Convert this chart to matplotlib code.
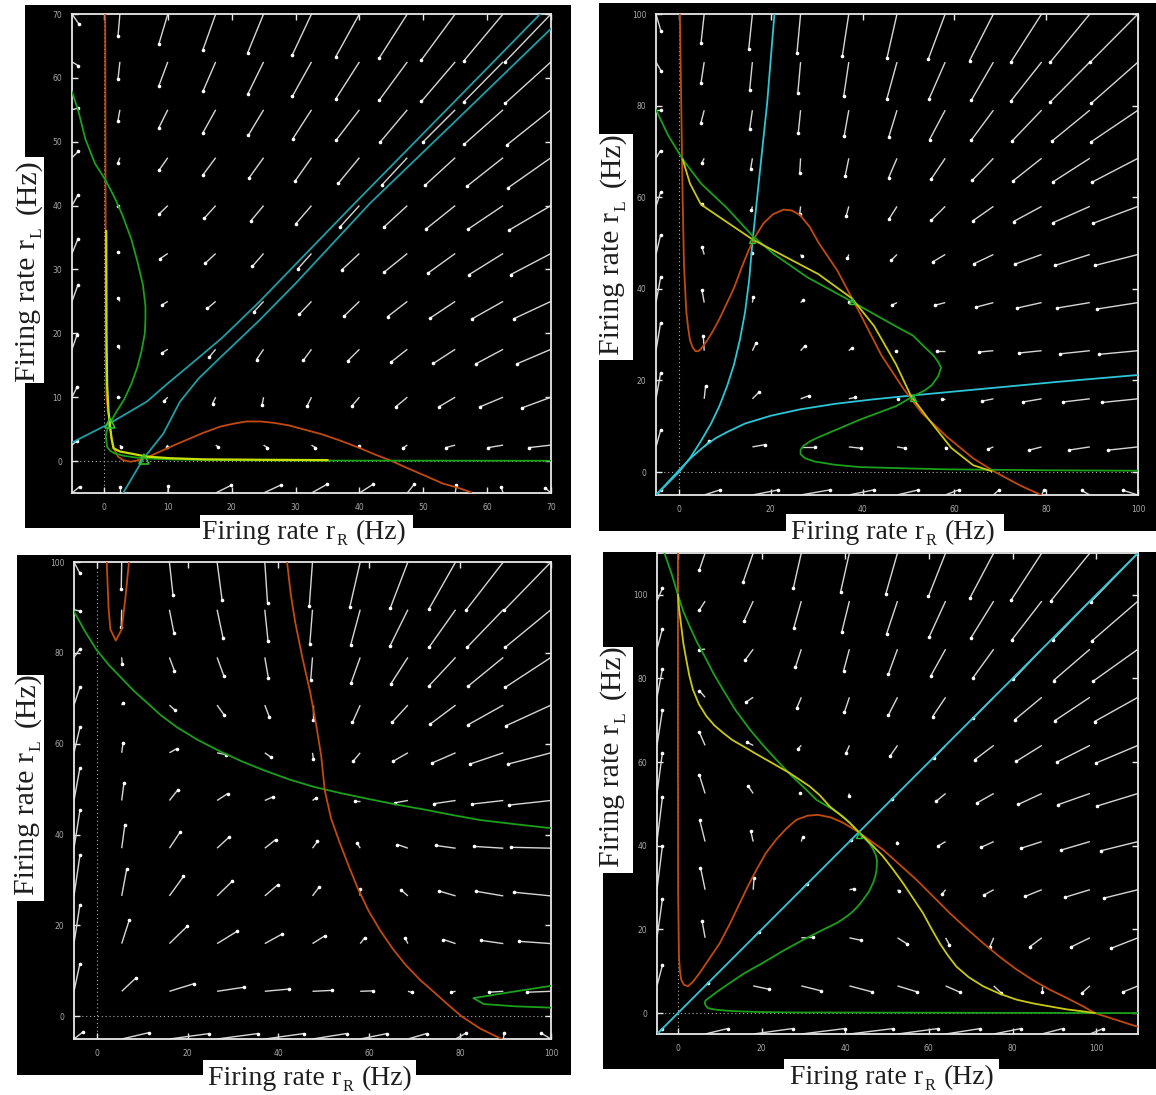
import numpy as np
import matplotlib
matplotlib.use('Agg')
import matplotlib.pyplot as plt
from matplotlib.collections import LineCollection
from matplotlib.patches import Rectangle

# Figure size in pixels (dpi 100).
W, H = 1156, 1095

# ---------------------------------------------------------------------------
# Panel 1 (top left): r_R, r_L in [-5, 70]
# Direction field on an 11 x 11 grid, rows listed from top (r_L = 70) to bottom.
p1DX = [
    [1.1, -0.3, -1.4, -2.0, -2.5, -3.0, -3.7, -4.4, -5.3, -6.2, -7.2],
    [1.0, -0.3, -1.4, -2.0, -2.5, -3.0, -3.7, -4.4, -5.3, -6.2, -7.2],
    [1.0, -0.3, -1.4, -2.0, -2.4, -2.9, -3.6, -4.2, -5.1, -6.1, -6.9],
    [1.0, -0.3, -1.4, -2.0, -2.3, -2.6, -3.3, -4.0, -4.7, -5.7, -6.7],
    [0.9, -0.3, -1.3, -1.8, -2.0, -2.5, -3.0, -3.7, -4.5, -5.5, -6.5],
    [0.9, -0.3, -1.2, -1.6, -1.75, -2.15, -2.8, -3.6, -4.3, -5.3, -6.3],
    [0.9, -0.3, -0.9, -1.3, -1.5, -1.9, -2.4, -3.1, -3.9, -4.8, -5.8],
    [0.8, -0.3, -0.9, -1.0, -1.1, -1.3, -1.85, -2.55, -3.4, -4.3, -5.4],
    [0.8, -0.3, -0.6, -0.5, -0.25, -0.7, -1.2, -1.8, -2.55, -3.6, -4.6],
    [0.8, 0.2, -0.2, 0.4, 0.6, 0.6, 0.0, -0.6, -1.5, -2.4, -3.5],
    [1.2, 0.0, 0.1, 2.4, 2.8, 2.5, 2.2, 1.1, 0.2, -0.3, -0.9],
]
p1DY = [
    [-1.6, -3.5, -4.7, -5.6, -6.1, -6.4, -6.7, -6.9, -7.2, -7.4, -7.5],
    [-0.6, -2.7, -3.75, -4.6, -5.1, -5.4, -5.8, -6.0, -6.2, -6.3, -6.5],
    [0.3, -1.7, -2.8, -3.6, -4.0, -4.5, -4.7, -5.0, -5.1, -5.4, -5.5],
    [1.0, -0.8, -2.0, -2.7, -3.2, -3.7, -4.0, -4.3, -4.3, -4.5, -4.7],
    [1.6, -0.05, -1.25, -2.0, -2.4, -2.9, -3.3, -3.4, -3.6, -3.7, -3.8],
    [2.2, 0.3, -0.8, -1.5, -2.0, -2.4, -2.6, -2.9, -3.1, -3.3, -3.3],
    [2.5, 0.55, -0.55, -1.1, -1.6, -2.0, -2.3, -2.4, -2.6, -2.7, -2.7],
    [2.3, 0.45, -0.55, -1.2, -1.6, -1.75, -1.85, -2.0, -2.2, -2.3, -2.3],
    [1.6, 0.0, -0.6, -1.0, -1.25, -1.4, -1.4, -1.5, -1.5, -1.5, -1.7],
    [0.7, -0.3, -0.3, -0.3, -0.4, -0.4, -0.2, -0.4, -0.4, -0.4, -0.4],
    [1.0, 1.0, 1.1, 1.2, 1.3, 1.4, 1.4, 1.4, 1.2, 1.0, 0.8],
]
# nullclines, manifolds and trajectories
p1OrangeX = [0.2, 0.3, 0.4, 0.6, 0.8, 1.0, 1.2, 1.4, 1.7, 2.2, 3.0, 4.1, 5.0, 6.2, 7.5, 8.8,
             10.8, 12.9, 15.5, 18.2, 20.5, 22.3, 24.5, 26.5, 28.9, 31.5, 34.1, 37.0, 39.9,
             42.5, 45.1, 47.5, 50.3, 53.0, 55.5, 57.5]
p1OrangeY = [70, 15, 10, 8.0, 6.9, 5.0, 3.5, 2.5, 1.7, 0.7, 0.15, -0.1, 0.05, 0.4, 0.9, 1.5,
             2.4, 3.3, 4.4, 5.4, 5.9, 6.2, 6.2, 6.0, 5.6, 4.9, 4.2, 3.2, 2.1,
             1.0, 0.0, -1.1, -2.3, -3.5, -4.2, -4.9]
p1GreenX = [-5.0, -4.0, -2.9, -1.4, 0.3, 1.7, 2.9, 4.3, 5.2, 6.1, 6.5, 6.5, 6.4, 5.9, 5.2, 4.3,
            3.2, 2.0, 1.2, 0.8, 0.4, 0.3, 0.5, 1.0, 1.7, 3.0, 4.6, 7.0, 10.3, 18.2, 30.0, 70.0]
p1GreenY = [57.8, 54.8, 50.4, 46.6, 43.9, 41.2, 38.5, 34.7, 31.4, 27.6, 24.3, 22.2, 20.0, 17.3,
            14.6, 12.1, 9.7, 7.8, 6.4, 5.5, 4.6, 3.8, 2.2, 1.6, 1.2, 0.85, 0.6, 0.4, 0.26,
            0.15, 0.08, 0.05]
p1YellowX = [0.35, 0.4, 0.5, 0.7, 0.9, 1.2, 1.5, 2.5, 4.1, 6.7, 10.3, 15.5, 25.0, 35.0]
p1YellowY = [36.0, 20.0, 12.0, 8.0, 5.9, 3.5, 2.0, 1.5, 1.2, 0.7, 0.45, 0.27, 0.2, 0.15]
p1CyanAX = [-5.0, 0.9, 6.7, 9.8, 14.0, 18.5, 24.3, 30.0, 39.3, 50.0, 60.0, 68.3]
p1CyanAY = [2.9, 5.9, 9.3, 12.0, 15.5, 19.3, 24.9, 30.8, 40.4, 51.3, 61.5, 70.0]
p1CyanBX = [3.0, 6.2, 9.3, 11.9, 14.8, 18.0, 24.3, 30.0, 41.65, 55.0, 70.1]
p1CyanBY = [-5.0, 0.4, 4.3, 9.3, 12.9, 16.0, 22.0, 27.8, 40.35, 53.2, 67.8]
p1FixedX = [0.9, 6.2]
p1FixedY = [5.9, 0.4]

# ---------------------------------------------------------------------------
# Panel 2 (top right): [-5, 100]
p2DX = [
    [1.1, -0.7, -0.8, -0.8, -1.4, -2.2, -3.7, -5.2, -6.7, -8.6, -10.4],
    [1.1, -0.7, -0.6, -0.6, -1.1, -2.2, -3.5, -4.8, -6.7, -8.6, -10.2],
    [1.1, -0.7, -0.6, -0.5, -1.0, -1.8, -3.4, -4.8, -6.5, -8.3, -10.2],
    [1.0, -0.5, -0.4, -0.2, -0.8, -1.8, -3.1, -4.6, -6.3, -8.1, -10.0],
    [1.0, -0.5, -0.2, -0.2, -0.6, -1.7, -3.0, -4.4, -6.1, -8.1, -9.8],
    [1.0, -0.5, 0.0, 0.2, -0.3, -1.2, -2.7, -4.2, -5.8, -7.6, -9.4],
    [1.0, -0.5, 0.2, 0.6, 0.1, -1.0, -2.3, -3.8, -5.4, -7.2, -8.9],
    [1.0, -0.2, 0.8, 0.9, 0.6, -0.2, -1.8, -3.2, -4.9, -6.6, -8.5],
    [1.0, 0.3, 1.4, 1.9, 1.4, 0.2, -0.7, -2.4, -4.1, -5.9, -7.8],
    [1.0, 1.1, 2.8, 3.1, 2.7, 1.8, 0.2, -1.2, -2.7, -4.6, -6.5],
    [1.1, 3.4, 5.6, 6.3, 5.4, 4.6, 2.9, 1.2, 0.5, -1.8, -3.2],
]
p2DY = [
    [-3.8, -6.4, -7.7, -8.6, -9.1, -9.7, -9.9, -10.2, -10.5, -10.5, -10.5],
    [-1.9, -4.6, -6.1, -6.7, -7.4, -8.0, -8.0, -8.3, -8.5, -8.7, -9.0],
    [0.0, -2.7, -4.1, -4.9, -5.6, -5.9, -6.4, -6.5, -6.8, -6.8, -6.9],
    [1.7, -1.0, -2.4, -3.3, -3.9, -4.2, -4.6, -4.8, -5.0, -5.2, -5.2],
    [3.1, 0.5, -0.8, -1.7, -2.2, -2.7, -3.0, -3.1, -3.3, -3.6, -3.7],
    [4.3, 1.7, 0.3, -0.3, -0.8, -1.2, -1.6, -2.0, -2.1, -2.4, -2.4],
    [5.5, 2.8, 1.3, 0.5, 0.15, -0.5, -0.6, -1.0, -1.2, -1.2, -1.4],
    [6.1, 3.3, 1.7, 1.0, 0.5, 0.0, 0.0, -0.3, -0.5, -0.7, -0.8],
    [5.6, 2.8, 1.4, 0.7, 0.3, 0.0, 0.0, -0.5, -0.7, -0.7, -0.8],
    [3.6, 1.2, 0.5, 0.0, -0.3, -0.3, -0.3, -0.5, -0.7, -0.7, -0.7],
    [1.2, 1.1, 1.1, 1.1, 1.1, 1.1, 1.1, 1.1, 1.1, 1.0, 1.0],
]
p2OrangeX = [0.2, 0.5, 0.8, 1.1, 1.6, 2.0, 2.4, 3.0, 3.6, 4.2, 4.8, 6.0, 7.4, 8.8, 10.4, 12.0,
             13.6, 15.2, 16.8, 18.4, 20.5, 22.8, 24.6, 26.4, 28.5, 30.4, 34.5, 39.3, 44.1,
             48.9, 52.9, 58.5, 64.1, 68.9, 74.5, 78.9]
p2OrangeY = [100, 80, 60, 45, 35, 31.5, 28.8, 27.2, 26.4, 26.4, 26.9, 28.5, 30.8, 33.4, 36.8,
             40.2, 44.5, 48.5, 51.7, 54.3, 56.3, 57.3, 57.1, 56.1, 53.5, 50.1, 44.0, 34.9,
             25.5, 18.2, 12.9, 7.6, 3.0, 0.0, -3.0, -5.0]
p2GreenX = [-5.0, -2.4, 0.8, 4.8, 10.4, 16.0, 20.8, 28.0, 37.7, 47.1, 51.0, 53.5, 55.5, 56.5,
            57.1, 56.5, 55.1, 53.5, 51.3, 47.3, 39.3, 30.4, 28.5, 27.2, 26.5, 26.5, 27.5,
            29.6, 34.0, 39.3, 50.0, 58.5, 80.0, 100.0]
p2GreenY = [79.1, 73.6, 68.3, 63.0, 57.7, 51.6, 47.5, 42.5, 37.2, 31.9, 29.8, 27.3, 25.4, 24.0,
            22.8, 21.0, 19.0, 17.8, 16.7, 14.4, 11.4, 7.6, 6.7, 5.8, 4.9, 3.9, 3.0,
            2.3, 1.6, 1.1, 0.8, 0.6, 0.4, 0.3]
p2YellowX = [0.8, 2.4, 4.8, 10.4, 16.0, 23.2, 30.4, 37.7, 42.5, 47.3, 50.5, 54.5, 59.3, 64.1, 68.1]
p2YellowY = [68.3, 63.0, 58.4, 54.6, 50.8, 47.0, 43.2, 37.9, 31.9, 23.5, 16.7, 11.4, 5.3, 1.5, 0.2]
p2CyanAX = [-5.0, 0.0, 2.5, 4.8, 7.0, 8.8, 10.5, 12.0, 13.3, 14.4, 15.3, 16.0, 17.6, 19.2, 20.8]
p2CyanAY = [-5.0, 0.0, 3.2, 6.8, 10.6, 14.4, 18.8, 23.5, 29.0, 34.9, 42.0, 50.1, 65.3, 80.4, 100.0]
p2CyanBX = [-5.0, 0.0, 2.8, 5.6, 8.0, 10.4, 14.4, 20.0, 26.4, 34.0, 42.5, 50.5, 66.5, 82.5, 100.0]
p2CyanBY = [-5.0, 0.4, 3.3, 5.7, 7.4, 8.7, 10.6, 12.3, 13.7, 14.9, 15.9, 16.7, 18.2, 19.7, 21.2]
p2FixedX = [16.0, 37.6, 51.0]
p2FixedY = [50.6, 37.4, 16.2]

# ---------------------------------------------------------------------------
# Panel 3 (bottom left): [-5, 100]
p3DX = [
    [1.3, -0.1, 0.8, 1.1, 0.6, -0.7, -2.3, -3.9, -5.9, -8.2, -10.3],
    [1.3, -0.1, 1.0, 1.3, 0.7, -0.6, -2.1, -3.9, -5.8, -8.0, -10.1],
    [1.3, 0.1, 1.1, 1.5, 0.8, -0.4, -2.0, -3.8, -5.8, -7.7, -10.1],
    [1.3, 0.3, 1.2, 1.5, 1.0, 0.0, -1.7, -3.5, -5.6, -7.7, -9.8],
    [1.3, 0.3, 1.6, 1.9, 1.4, 0.2, -1.5, -3.3, -5.3, -7.4, -9.5],
    [1.3, 0.5, 1.9, 2.3, 1.8, 0.7, -1.1, -2.8, -4.8, -7.0, -9.2],
    [1.3, 0.7, 2.4, 2.7, 2.4, 1.1, -0.7, -2.3, -4.4, -6.5, -8.8],
    [1.3, 1.1, 3.1, 3.3, 2.9, 1.5, -0.1, -1.6, -3.7, -5.9, -8.1],
    [1.3, 1.7, 3.9, 4.4, 3.8, 2.7, 1.0, -0.6, -2.7, -4.9, -7.0],
    [1.3, 3.2, 5.5, 6.0, 5.4, 4.3, 2.8, 0.8, -1.0, -3.1, -5.2],
    [1.9, 6.0, 8.8, 9.0, 8.6, 7.5, 5.9, 4.1, 2.3, 0.2, -2.2],
]
p3DY = [
    [-2.5, -5.9, -7.3, -8.4, -9.0, -9.6, -10.0, -10.2, -10.4, -10.6, -10.6],
    [-0.3, -3.7, -5.1, -6.2, -6.8, -7.6, -7.8, -7.9, -8.2, -8.3, -8.3],
    [1.9, -1.4, -2.9, -4.1, -4.6, -5.0, -5.6, -5.9, -6.2, -6.3, -6.6],
    [3.9, 0.5, -1.1, -2.1, -2.6, -3.2, -3.8, -3.8, -4.2, -4.3, -4.5],
    [5.6, 2.2, 0.9, -0.4, -1.0, -1.4, -1.8, -1.9, -2.3, -2.5, -2.5],
    [7.2, 3.9, 2.4, 1.5, 0.8, 0.5, 0.0, -0.5, -0.7, -0.8, -1.0],
    [8.3, 5.2, 3.6, 2.5, 1.9, 1.5, 1.2, 0.8, 0.6, 0.4, 0.2],
    [8.9, 5.9, 4.3, 3.2, 2.5, 2.0, 1.5, 1.4, 1.1, 1.0, 0.8],
    [8.6, 5.3, 3.8, 2.7, 2.1, 1.7, 1.3, 1.2, 0.9, 0.7, 0.5],
    [6.1, 3.0, 1.7, 0.9, 0.5, 0.2, 0.1, -0.2, -0.2, -0.2, -0.2],
    [1.5, 1.4, 1.2, 1.2, 1.2, 1.2, 1.2, 1.2, 1.3, 1.3, 1.3],
]
p3GreenX = [-5.0, -2.5, 0.0, 2.7, 5.5, 8.2, 11.1, 14.2, 17.7, 22.3, 27.4, 32.2, 37.2, 42.5,
            47.8, 53.8, 60.0, 66.0, 72.2, 78.3, 84.4, 92.0, 100.0]
p3GreenY = [89.1, 84.6, 80.6, 77.3, 74.4, 71.6, 69.0, 66.2, 63.6, 60.8, 58.2, 56.0, 54.0, 52.1,
            50.5, 49.1, 47.8, 46.6, 45.5, 44.3, 43.2, 42.3, 41.4]
p3WedgeX = [100.0, 91.0, 82.9, 85.2, 92.0, 100.0]
p3WedgeY = [6.7, 5.3, 4.0, 2.7, 2.2, 1.9]
p3OrangeLeftX = [2.2, 2.6, 3.0, 4.2, 5.5, 6.3, 7.1]
p3OrangeLeftY = [100, 90, 85.2, 82.7, 85.2, 92, 100]
p3OrangeRightX = [41.9, 42.7, 43.7, 45.3, 47.0, 48.3, 49.4, 50.2, 51.6, 53.5, 55.5, 57.5, 59.8,
                  62.4, 65.2, 68.1, 71.3, 74.6, 77.5, 80.3, 84.4, 89.1]
p3OrangeRightY = [100, 93.0, 86.7, 78.8, 71.3, 64.2, 57.4, 49.7, 43.5, 38.2, 33.0, 28.1, 23.3,
                  18.9, 14.8, 11.2, 7.9, 5.0, 2.4, 0.0, -2.7, -5.0]

# ---------------------------------------------------------------------------
# Panel 4 (bottom right): [-5, 110]
p4DX = [
    [1.3, -1.4, -2.4, -1.9, -2.1, -2.8, -4.1, -5.7, -7.3, -9.3, -11.2],
    [1.3, -1.4, -2.2, -1.8, -1.8, -2.6, -3.9, -5.5, -7.1, -8.9, -11.0],
    [1.3, -1.4, -2.0, -1.4, -1.4, -2.2, -3.6, -5.0, -6.8, -8.7, -10.8],
    [1.3, -1.4, -1.8, -1.1, -1.2, -2.2, -3.1, -4.9, -6.5, -8.4, -10.4],
    [1.3, -1.4, -1.6, -0.9, -0.8, -1.8, -2.8, -4.5, -6.1, -7.9, -10.0],
    [1.3, -1.4, -1.2, -0.3, -0.2, -1.2, -2.3, -3.9, -5.6, -7.7, -9.8],
    [1.3, -1.3, -0.6, 0.3, 0.3, -0.2, -1.7, -3.1, -5.0, -6.8, -8.9],
    [1.3, -1.1, 0.2, 1.3, 1.1, 0.4, -0.8, -2.2, -4.0, -5.9, -8.1],
    [1.3, -0.7, 1.4, 2.9, 2.8, 2.2, 0.9, -0.9, -2.8, -4.5, -6.4],
    [1.3, 0.7, 3.8, 4.8, 5.3, 4.6, 3.4, 1.7, 0.0, -1.8, -3.7],
    [1.2, 5.4, 9.4, 10.4, 10.5, 9.7, 8.3, 6.5, 5.0, 3.2, 1.0],
]
p4DY = [
    [1.0, -4.1, -6.9, -8.4, -9.3, -9.8, -10.4, -10.8, -11.2, -11.4, -11.6],
    [3.1, -2.2, -4.8, -6.4, -7.3, -7.8, -8.5, -8.9, -9.2, -9.3, -9.5],
    [4.9, -0.1, -2.7, -4.3, -5.2, -6.0, -6.5, -6.9, -7.2, -7.5, -7.7],
    [6.8, 1.6, -1.2, -2.6, -3.6, -4.3, -4.6, -5.0, -5.4, -5.6, -5.8],
    [8.4, 3.2, 0.8, -0.9, -1.8, -2.6, -3.0, -3.4, -3.8, -4.0, -4.2],
    [9.8, 4.5, 1.8, 0.2, -0.6, -1.4, -1.9, -2.2, -2.6, -2.7, -3.0],
    [10.6, 5.2, 2.6, 1.0, 0.3, -0.4, -1.0, -1.4, -1.6, -2.0, -2.2],
    [10.5, 5.3, 2.8, 1.4, 0.2, -0.4, -1.0, -1.2, -1.6, -1.8, -2.0],
    [9.3, 3.9, 1.4, 0.1, -0.6, -1.4, -1.7, -2.1, -2.1, -2.2, -2.5],
    [5.0, 0.6, -0.8, -1.2, -1.4, -1.4, -1.5, -1.6, -1.4, -1.6, -1.5],
    [1.2, 1.3, 1.3, 1.3, 1.3, 1.3, 1.3, 1.3, 1.3, 1.3, 1.3],
]
p4GreenX = [-3.2, -1.5, 0.0, 1.3, 2.8, 4.5, 6.4, 8.5, 10.8, 13.8, 17.2, 20.3, 23.5, 27.0, 30.7,
            33.1, 36.5, 39.5, 43.3, 44.6, 45.9, 46.7, 47.3, 47.6, 47.5, 47.2, 46.7, 45.7, 44.3,
            43.0, 41.5, 39.8, 37.9, 33.8, 29.9, 25.0, 20.3, 16.0, 12.4, 9.5, 7.5, 6.6, 6.4,
            6.7, 7.2, 8.0, 9.2, 12.0, 15.0, 20.0, 27.5, 110.0]
p4GreenY = [109.9, 105.0, 100.0, 96.0, 92.5, 88.8, 85.3, 81.2, 77.3, 72.4, 67.8, 64.1, 60.6,
            56.9, 53.4, 51.0, 49.0, 47.0, 43.2, 41.8, 40.4, 39.1, 37.8, 36.5, 34.3, 32.7, 31.2,
            29.1, 27.1, 25.5, 24.0, 22.7, 21.5, 19.5, 17.5, 14.8, 12.0, 9.6, 7.2, 5.2, 3.7,
            3.0, 2.4, 1.7, 1.2, 1.0, 0.8, 0.55, 0.4, 0.25, 0.15, 0.0]
p4YellowX = [0.0, 0.3, 0.8, 1.3, 2.0, 2.7, 3.6, 5.0, 6.8, 8.7, 10.8, 13.0, 15.6, 18.3, 21.1,
             23.9, 26.7, 29.1, 31.5, 33.9, 36.3, 38.7, 41.1, 43.3, 46.2, 49.0, 51.4, 53.8,
             56.2, 58.6, 60.6, 62.6, 64.6, 66.6, 69.5, 73.0, 77.0, 81.0, 85.0, 88.9, 92.9,
             96.9, 99.7]
p4YellowY = [100.0, 96.5, 92.5, 88.4, 84.5, 80.8, 77.3, 73.9, 71.0, 68.8, 67.0, 65.3, 63.8,
             62.2, 60.6, 59.0, 57.4, 55.8, 54.2, 52.1, 49.4, 47.5, 45.5, 43.2, 40.4, 37.5, 34.4,
             31.1, 27.5, 23.9, 20.2, 16.7, 13.7, 11.1, 8.6, 6.4, 4.6, 3.2, 2.3, 1.6, 0.9,
             0.4, 0.0]
p4OrangeX = [0.0, 0.0, 0.05, 0.25, 0.5, 0.8, 1.4, 2.4, 3.6, 5.2, 7.5, 10.0, 12.5, 14.8, 16.8,
             18.8, 21.0, 23.5, 26.0, 28.3, 31.0, 33.5, 36.5, 39.5, 43.3, 46.0, 49.0, 53.0,
             57.0, 61.0, 65.0, 69.0, 73.0, 77.0, 81.0, 85.0, 88.9, 93.0, 96.9, 99.7, 105.0,
             110.0]
p4OrangeY = [110.0, 60.0, 29.5, 13.5, 10.0, 8.0, 6.8, 6.4, 7.5, 9.6, 13.0, 16.7, 21.5, 26.3,
             30.5, 34.3, 38.2, 41.5, 44.2, 46.2, 47.2, 47.4, 46.8, 45.5, 43.2, 41.2, 39.1, 35.5,
             31.9, 27.9, 23.9, 20.2, 16.7, 13.4, 10.4, 7.8, 5.6, 3.6, 1.6, 0.0, -1.7,
             -3.3]
p4CyanX = [-5.0, 110.0]
p4CyanY = [-5.0, 110.0]
p4FixedX = [43.3]
p4FixedY = [42.6]

# axis label text
labelHead = 'Firing rate r'
labelTail = '(Hz)'
subX = 'R'
subY = 'L'

# ---------------------------------------------------------------------------
# colours
ORANGE = '#c24a0e'
GREEN = '#1aa01a'
YELLOW = '#c9c812'
YELLOW_BRIGHT = '#c8e000'
TEAL = '#1f9ea6'
CYAN = '#2cc6d6'
ARROW = '#d6d6d6'
TICK = '#a8a8a8'
SERIF = 'Liberation Serif'

fig = plt.figure(figsize=(W / 100, H / 100), dpi=100)
fig.patch.set_facecolor('white')
renderer = fig.canvas.get_renderer()


def figRect(left, top, right, bottom, colour, z):
    """ Add a rectangle given in pixel coordinates (origin top left) """
    r = Rectangle((left / W, 1 - bottom / H), (right - left) / W, (bottom - top) / H,
                  transform=fig.transFigure, facecolor=colour, edgecolor='none', zorder=z)
    fig.add_artist(r)


def textWidth(s, size):
    t = fig.text(0, 0, s, fontsize=size, family=SERIF)
    w = t.get_window_extent(renderer).width
    t.remove()
    return w


def putText(x, y, s, size, rot):
    fig.text(x / W, 1 - y / H, s, fontsize=size, family=SERIF, color='#1e1e1e',
             ha='left', va='baseline', rotation=rot, rotation_mode='anchor', zorder=6)


def subLabel(cx, cy, sub, size, vertical, gap):
    """ 'Firing rate r_sub (Hz)' centred on cx (or cy), with a real subscript """
    em = size * 100 / 72
    small = size * 0.58
    w1 = textWidth(labelHead, size)
    ws = textWidth(sub, small)
    w2 = textWidth(labelTail, size)
    gapPx = gap * em
    total = w1 + 1 + ws + gapPx + w2
    drop = 0.2 * em
    if not vertical:
        x0 = cx - total / 2
        putText(x0, cy, labelHead, size, 0)
        putText(x0 + w1 + 1, cy + drop, sub, small, 0)
        putText(x0 + w1 + 1 + ws + gapPx, cy, labelTail, size, 0)
    else:
        y0 = cy + total / 2
        putText(cx, y0, labelHead, size, 90)
        putText(cx + drop, y0 - w1 - 1, sub, small, 90)
        putText(cx, y0 - w1 - 1 - ws - gapPx, labelTail, size, 90)


def makePanel(frame, lim, ticks):
    left, top, right, bottom = frame
    ax = fig.add_axes([left / W, 1 - bottom / H, (right - left) / W, (bottom - top) / H])
    ax.set_facecolor('black')
    ax.set_xlim(lim)
    ax.set_ylim(lim)
    ax.set_xticks(ticks)
    ax.set_yticks(ticks)
    ax.tick_params(which='both', direction='in', length=4, width=1, color='#e8e8e8',
                   top=True, right=True, labelsize=5.5, labelcolor=TICK, pad=7)
    for s in ax.spines.values():
        s.set_color('#e8e8e8')
        s.set_linewidth(1.3)
    ax.axhline(0, color='#b0b0b0', lw=0.8, ls=(0, (1, 2.5)), zorder=1)
    ax.axvline(0, color='#b0b0b0', lw=0.8, ls=(0, (1, 2.5)), zorder=1)
    return ax


def drawField(ax, lim, dx, dy):
    """ Arrows on the 11 x 11 grid: line from grid point, dot at the head """
    xs = np.linspace(lim[0], lim[1], 11)
    ys = np.linspace(lim[1], lim[0], 11)
    X, Y = np.meshgrid(xs, ys)
    U = np.asarray(dx)
    V = np.asarray(dy)
    tails = np.stack([X, Y], axis=-1).reshape(-1, 2)
    heads = np.stack([X + U, Y + V], axis=-1).reshape(-1, 2)
    segs = np.stack([tails, heads], axis=1)
    ax.add_collection(LineCollection(segs, colors=ARROW, linewidths=1.0, zorder=2))
    ax.plot(heads[:, 0], heads[:, 1], 'o', ms=2.6, mfc='white', mec='white', mew=0, zorder=2)


def curve(ax, x, y, colour, lw=1.3, z=3):
    ax.plot(x, y, color=colour, lw=lw, zorder=z, solid_joinstyle='round')


def labelBoxes(xbox, ybox, xpos, ypos):
    figRect(*xbox, 'white', 5)
    figRect(*ybox, 'white', 5)
    subLabel(xpos[0], xpos[1], subX, 20, False, 0.3)
    subLabel(ypos[0], ypos[1], subY, 21.5, True, 0.45)


# black window behind each panel
figRect(25, 5, 571, 528, 'black', -1)
figRect(599, 3, 1156, 531, 'black', -1)
figRect(17, 555, 571, 1075, 'black', -1)
figRect(603, 552, 1156, 1069, 'black', -1)

# Panel 1
lim1 = (-5, 70)
ax1 = makePanel((72, 14, 551, 493), lim1, np.arange(0, 71, 10))
drawField(ax1, lim1, p1DX, p1DY)
curve(ax1, p1CyanAX, p1CyanAY, TEAL)
curve(ax1, p1CyanBX, p1CyanBY, TEAL)
curve(ax1, p1OrangeX, p1OrangeY, ORANGE)
curve(ax1, p1GreenX, p1GreenY, GREEN)
curve(ax1, p1YellowX, p1YellowY, YELLOW_BRIGHT, lw=1.6, z=4)
ax1.plot(p1FixedX, p1FixedY, '^', ms=7, mfc='none', mec='#30c030', mew=1.2, zorder=5)
labelBoxes((200, 515, 413, 545), (5, 157, 44, 383), (304, 539), (35, 271))

# Panel 2
lim2 = (-5, 100)
ax2 = makePanel((656, 14, 1138, 495), lim2, np.arange(0, 101, 20))
drawField(ax2, lim2, p2DX, p2DY)
curve(ax2, p2CyanAX, p2CyanAY, CYAN)
curve(ax2, p2CyanBX, p2CyanBY, CYAN)
curve(ax2, p2OrangeX, p2OrangeY, ORANGE)
curve(ax2, p2GreenX, p2GreenY, GREEN)
curve(ax2, p2YellowX, p2YellowY, YELLOW, z=4)
ax2.plot(p2FixedX, p2FixedY, '^', ms=4, mfc='none', mec='#30c030', mew=1.0, zorder=5)
labelBoxes((786, 514, 1004, 545), (595, 134, 633, 360), (893, 539), (619, 244))

# Panel 3
lim3 = (-5, 100)
ax3 = makePanel((74, 562, 551, 1039), lim3, np.arange(0, 101, 20))
drawField(ax3, lim3, p3DX, p3DY)
curve(ax3, p3GreenX, p3GreenY, GREEN)
curve(ax3, p3WedgeX, p3WedgeY, GREEN)
curve(ax3, p3OrangeLeftX, p3OrangeLeftY, ORANGE)
curve(ax3, p3OrangeRightX, p3OrangeRightY, ORANGE)
labelBoxes((203, 1060, 416, 1095), (8, 675, 44, 901), (310, 1085), (34, 784))

# Panel 4
lim4 = (-5, 110)
ax4 = makePanel((657, 553, 1138, 1034), lim4, np.arange(0, 101, 20))
drawField(ax4, lim4, p4DX, p4DY)
curve(ax4, p4CyanX, p4CyanY, CYAN)
curve(ax4, p4OrangeX, p4OrangeY, ORANGE)
curve(ax4, p4GreenX, p4GreenY, GREEN)
curve(ax4, p4YellowX, p4YellowY, YELLOW, z=4)
ax4.plot(p4FixedX, p4FixedY, '^', ms=4, mfc='none', mec='#30c030', mew=1.0, zorder=5)
labelBoxes((784, 1059, 999, 1095), (600, 647, 633, 873), (892, 1084), (619, 756))

fig.savefig('out.png', dpi=100, facecolor='white')
